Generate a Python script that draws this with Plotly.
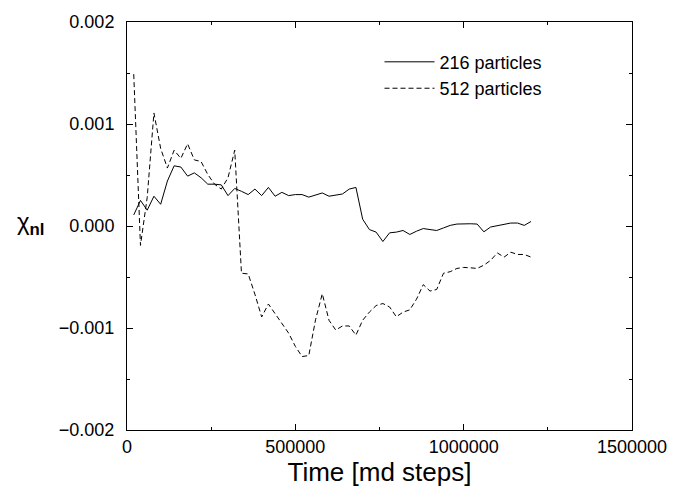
import plotly.graph_objects as go

steps = [20000, 40000, 60000, 80000, 100000, 120000, 140000, 160000, 180000, 200000,
         220000, 240000, 260000, 280000, 300000, 320000, 340000, 360000, 380000, 400000,
         420000, 440000, 460000, 480000, 500000, 520000, 540000, 560000, 580000, 600000,
         620000, 640000, 660000, 680000, 700000, 720000, 740000, 760000, 780000, 800000,
         820000, 840000, 860000, 880000, 900000, 920000, 940000, 960000, 980000, 1000000,
         1020000, 1040000, 1060000, 1080000, 1100000, 1120000, 1140000, 1160000, 1180000, 1200000]

chi_216 = [0.000108, 0.000251, 0.000155, 0.000292, 0.000213, 0.000441, 0.000590, 0.000578, 0.000489, 0.000521,
           0.000473, 0.000410, 0.000410, 0.000403, 0.000298, 0.000368, 0.000340, 0.000308, 0.000362, 0.000298,
           0.000378, 0.000292, 0.000330, 0.000298, 0.000308, 0.000308, 0.000283, 0.000305, 0.000324, 0.000292,
           0.000305, 0.000314, 0.000362, 0.000378, 0.000067, -0.000035, -0.000060, -0.000152, -0.000067, -0.000060,
           -0.000044, -0.000083, -0.000051, -0.000025, -0.000035, -0.000044, -0.000019, 0.000006, 0.000019, 0.000022,
           0.000022, 0.000019, -0.000057, -0.000010, 0.000003, 0.000013, 0.000029, 0.000029, 0.000006, 0.000044]

chi_512 = [0.001489, -0.000190, 0.000280, 0.001108, 0.000760, 0.000568, 0.000743, 0.000663, 0.000806, 0.000648,
           0.000632, 0.000505, 0.000410, 0.000362, 0.000473, 0.000743, -0.000463, -0.000470, -0.000670, -0.000892,
           -0.000765, -0.000860, -0.000955, -0.001050, -0.001180, -0.001280, -0.001270, -0.000920, -0.000664, -0.000924,
           -0.001020, -0.000980, -0.000980, -0.001070, -0.000924, -0.000844, -0.000780, -0.000760, -0.000794, -0.000890,
           -0.000844, -0.000822, -0.000717, -0.000575, -0.000638, -0.000622, -0.000463, -0.000448, -0.000416, -0.000406,
           -0.000410, -0.000416, -0.000384, -0.000337, -0.000264, -0.000305, -0.000257, -0.000279, -0.000279, -0.000305]

series_names = ["216 particles", "512 particles"]
x_ticks = [0, 500000, 1000000, 1500000]
x_ticklabels = ["0", "500000", "1000000", "1500000"]

FONT = "Liberation Sans, Arial, Helvetica, sans-serif"

fig = go.Figure()
fig.add_trace(go.Scatter(x=steps, y=chi_216, mode="lines", name=series_names[0],
                         line=dict(color="black", width=1)))
fig.add_trace(go.Scatter(x=steps, y=chi_512, mode="lines", name=series_names[1],
                         line=dict(color="black", width=1, dash="5px,3px")))

axis_common = dict(showgrid=False, zeroline=False, showline=True, linecolor="black", linewidth=1,
                   mirror="ticks", ticks="inside", ticklen=6, tickcolor="black", tickwidth=1,
                   tickfont=dict(family=FONT, size=18, color="black"))

fig.update_xaxes(range=[0, 1500000], tickvals=x_ticks, ticktext=x_ticklabels,
                 minor=dict(ticks="inside", ticklen=3, dtick=250000, tickcolor="black", tickwidth=1),
                 title=dict(text="Time [md steps]", font=dict(family=FONT, size=26, color="black"), standoff=2),
                 **axis_common)
fig.update_yaxes(range=[-0.002, 0.002], dtick=0.001, tickformat=".3f", ticklabelstandoff=8,
                 minor=dict(ticks="inside", ticklen=3, dtick=0.0005, tickcolor="black", tickwidth=1),
                 **axis_common)

fig.add_annotation(xref="paper", yref="paper", x=-0.158, y=0.505, xanchor="right", yanchor="middle",
                   showarrow=False, text="χ<sub><b>nl</b></sub>",
                   font=dict(family=FONT, size=24, color="black"))

fig.update_layout(
    width=699, height=489,
    margin=dict(l=127, r=67, t=13, b=56),
    paper_bgcolor="white", plot_bgcolor="white",
    showlegend=True,
    legend=dict(x=0.50, y=0.947, xanchor="left", yanchor="top", bgcolor="rgba(0,0,0,0)",
                font=dict(family=FONT, size=18, color="black"), itemwidth=50, tracegroupgap=0),
)

fig.write_html("out.html")
